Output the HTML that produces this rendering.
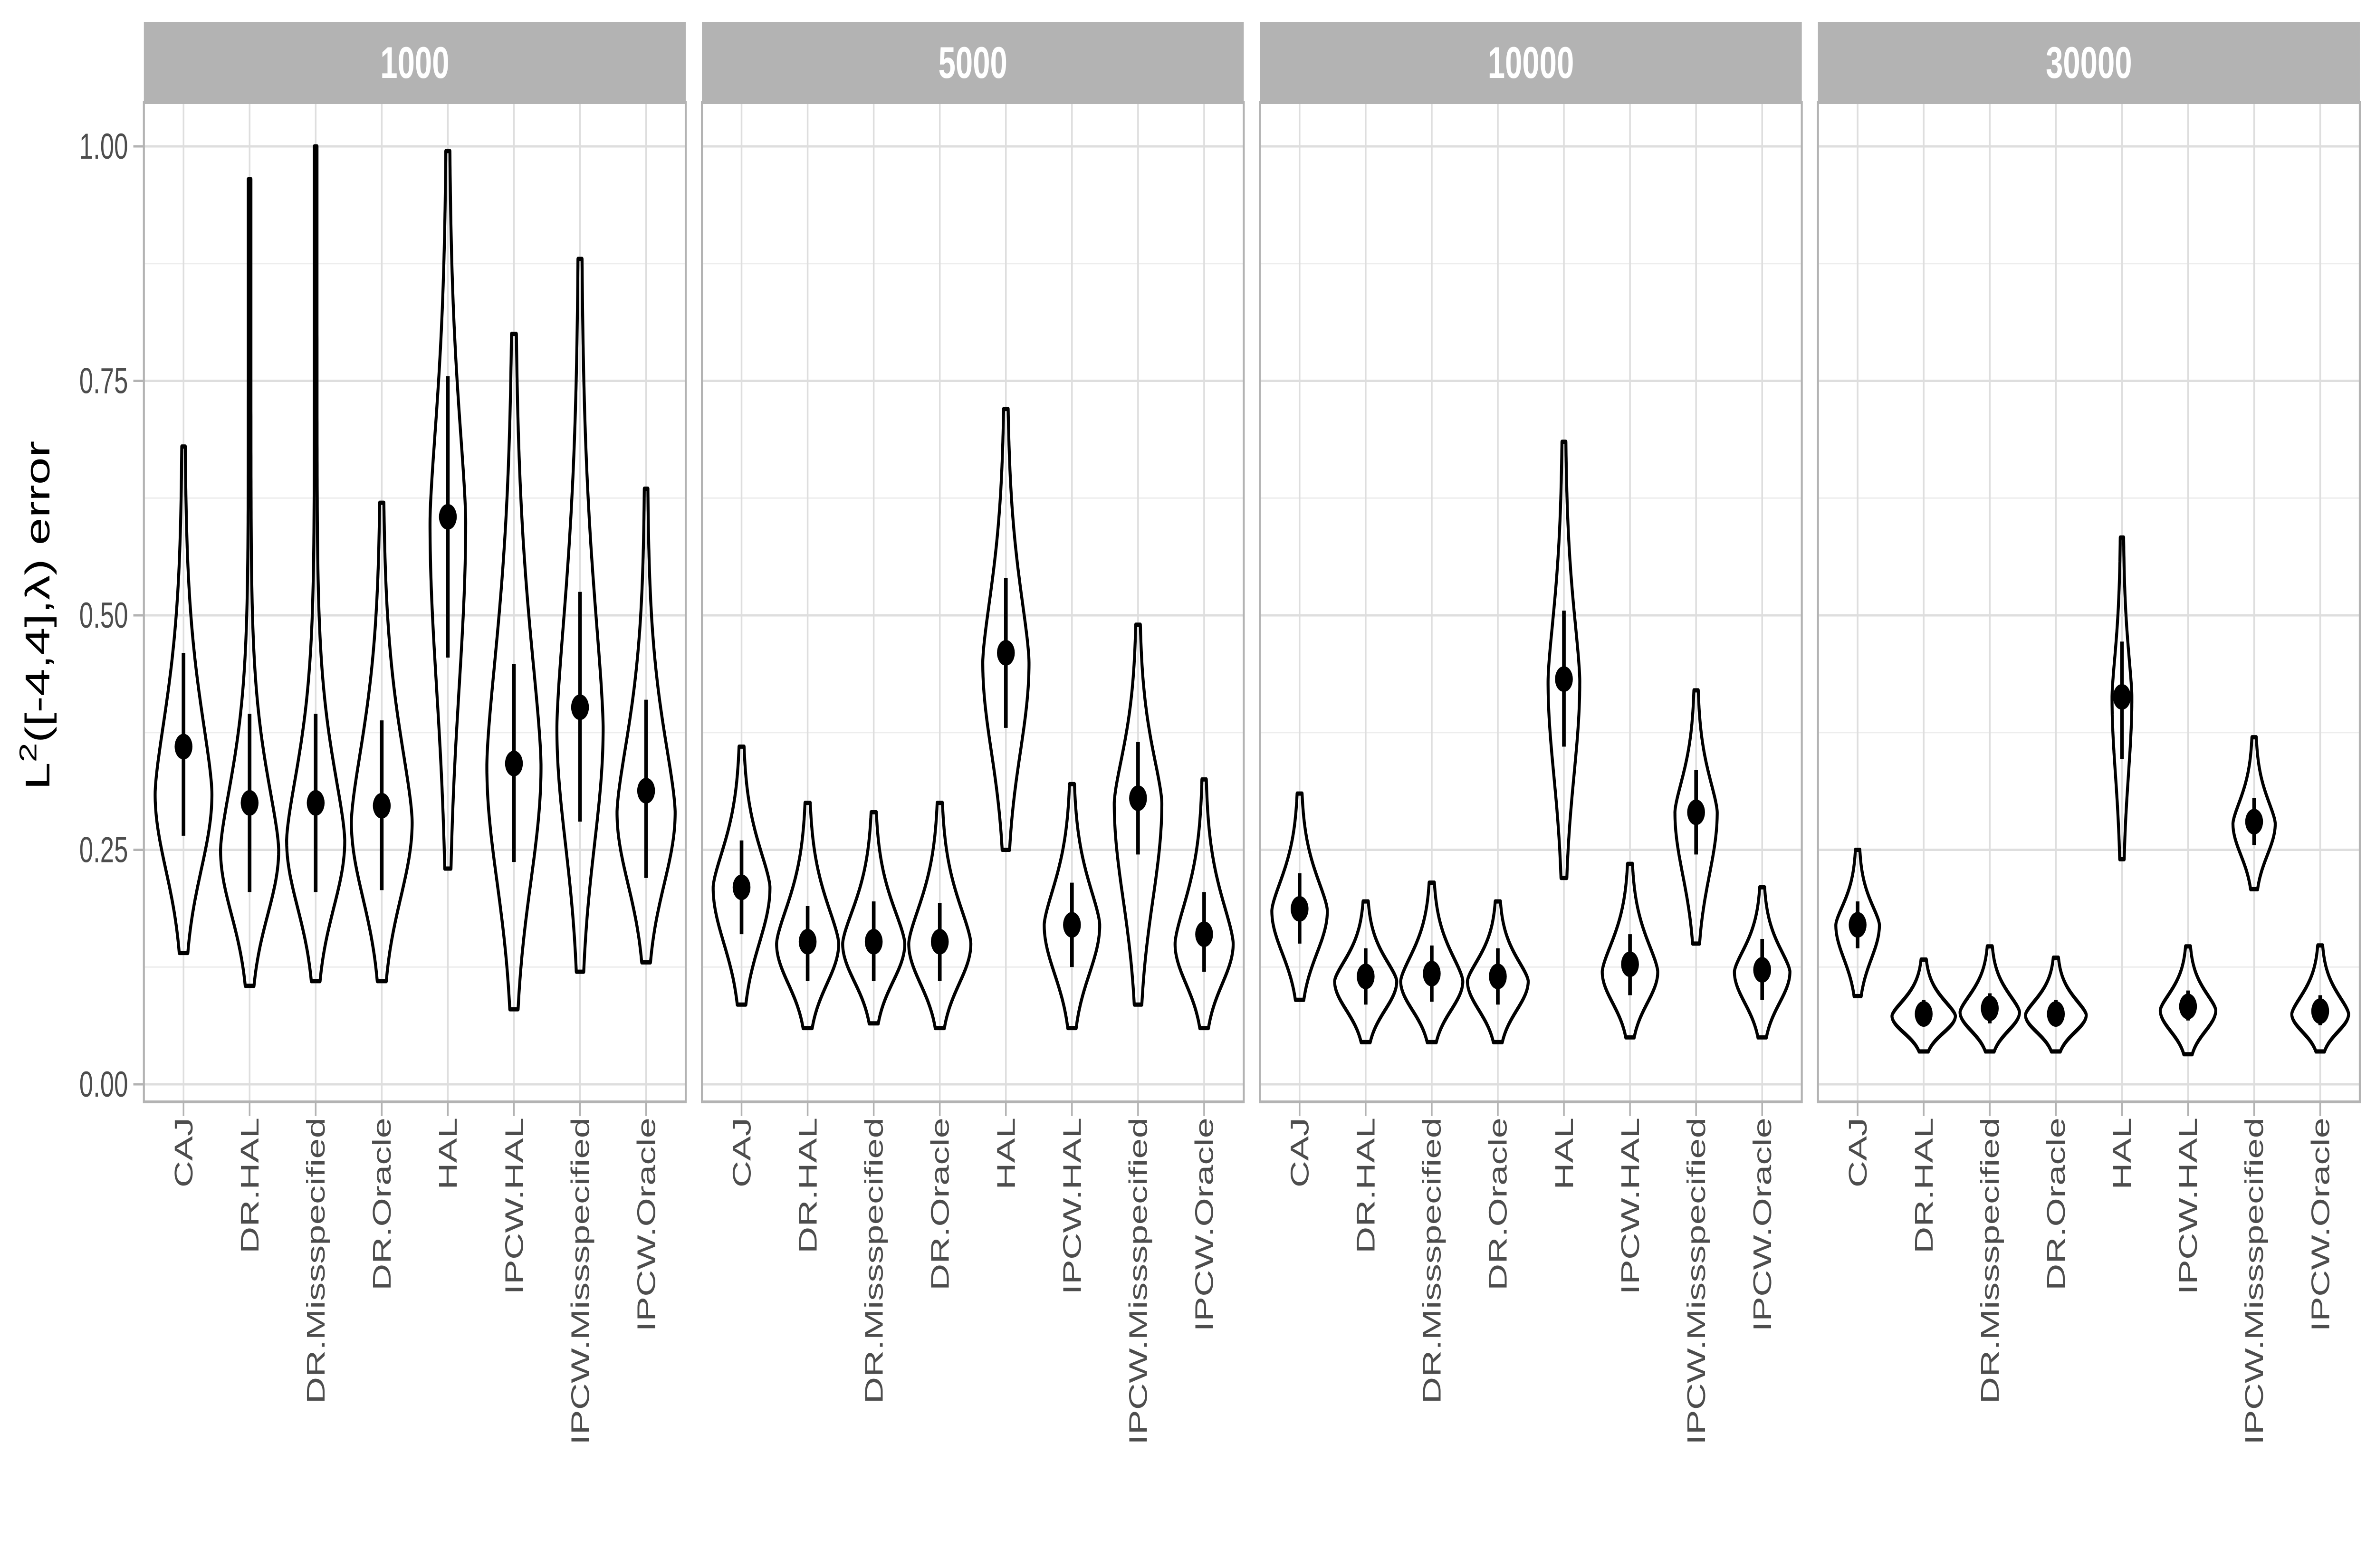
<!DOCTYPE html>
<html><head><meta charset="utf-8"><style>
html,body{margin:0;padding:0;background:#fff;width:100%;height:100%;overflow:hidden;}
svg{display:block;width:100vw;height:100vh;}
text{font-family:"Liberation Sans",sans-serif;}
</style></head><body>
<svg id="chart" viewBox="0 0 7200 3300" preserveAspectRatio="none" xmlns="http://www.w3.org/2000/svg">
<text transform="translate(150,1295) rotate(-90)" text-anchor="middle" font-size="104" fill="#000">L<tspan dy="-40" font-size="74">2</tspan><tspan dy="40">([-4,4],λ) error</tspan></text>
</svg>
<script>
const panels = ["1000","5000","10000","30000"];
const categories = ["CAJ","DR.HAL","DR.Missspecified","DR.Oracle","HAL","IPCW.HAL","IPCW.Missspecified","IPCW.Oracle"];
const yTicks = [0,0.25,0.5,0.75,1];
const yTickLabels = ["0.00","0.25","0.50","0.75","1.00"];
// per panel, per category
const vMin = [[0.14,0.105,0.11,0.11,0.23,0.08,0.12,0.13],[0.085,0.06,0.065,0.06,0.25,0.06,0.085,0.06],[0.09,0.045,0.045,0.045,0.22,0.05,0.15,0.05],[0.094,0.035,0.035,0.035,0.24,0.032,0.208,0.035]];
const vMax = [[0.68,0.965,1.0,0.62,0.995,0.80,0.88,0.635],[0.36,0.30,0.29,0.30,0.72,0.32,0.49,0.325],[0.31,0.195,0.215,0.195,0.685,0.235,0.42,0.21],[0.25,0.133,0.147,0.135,0.583,0.147,0.37,0.148]];
const vMode = [[0.31,0.25,0.26,0.28,0.60,0.34,0.38,0.29],[0.21,0.15,0.15,0.15,0.45,0.17,0.30,0.15],[0.185,0.11,0.11,0.11,0.43,0.12,0.29,0.12],[0.17,0.073,0.077,0.074,0.413,0.079,0.278,0.075]];
const vHalfWidth = [[0.41,0.42,0.42,0.44,0.25,0.39,0.33,0.42],[0.41,0.45,0.45,0.45,0.33,0.40,0.34,0.42],[0.40,0.45,0.45,0.44,0.22,0.40,0.30,0.40],[0.31,0.46,0.43,0.44,0.13,0.40,0.30,0.41]];
const pointVal = [[0.36,0.30,0.30,0.297,0.605,0.342,0.402,0.313],[0.21,0.152,0.152,0.152,0.46,0.17,0.305,0.16],[0.187,0.115,0.118,0.115,0.432,0.128,0.29,0.122],[0.17,0.075,0.081,0.075,0.413,0.083,0.28,0.078]];
const loVal = [[0.265,0.205,0.205,0.207,0.455,0.237,0.28,0.22],[0.16,0.11,0.11,0.11,0.38,0.125,0.245,0.12],[0.15,0.085,0.088,0.085,0.36,0.095,0.245,0.09],[0.145,0.062,0.065,0.062,0.347,0.068,0.255,0.063]];
const hiVal = [[0.46,0.395,0.395,0.388,0.755,0.448,0.525,0.41],[0.26,0.19,0.195,0.193,0.54,0.215,0.365,0.205],[0.225,0.145,0.148,0.145,0.505,0.16,0.335,0.155],[0.195,0.09,0.097,0.09,0.472,0.1,0.305,0.095]];

const NS="http://www.w3.org/2000/svg";
const svg=document.getElementById('chart');
const PX0=436, PSTEP=1691, PW=1642, PTOP=216, PBOT=2319, STRIPTOP=46;
const Y0=2282, Y1=308;
function yScale(v){return Y0+(Y1-Y0)*v;}
const unit=PW/8.2;
function xScale(p,i){return PX0+p*PSTEP+unit*(0.6+i);}
function mk(tag,attrs,parent){const e=document.createElementNS(NS,tag);for(const k in attrs)e.setAttribute(k,attrs[k]);(parent||svg).appendChild(e);return e;}

function violinPath(p,i){
  const mn=vMin[p][i],mx=vMax[p][i],md=vMode[p][i],hw=vHalfWidth[p][i]*unit;
  const sl=(md-mn)/2.1, sh=Math.min((mx-md)/2.8,(md-mn)*0.65);
  const cx=xScale(p,i);const N=160;const L=[],R=[];
  for(let k=0;k<=N;k++){
    const t=mn+(mx-mn)*k/N;let g;
    if(t<md){const d=(md-t)/sl;g=Math.exp(-d*d/2);}
    else{const d=(t-md)/sh;g=Math.exp(-Math.pow(d,1.5)/1.5);}
    const w=hw*g+4;
    const y=yScale(t);
    L.push([cx-w,y]);R.push([cx+w,y]);
  }
  let s="M"+L.map(q=>q[0].toFixed(1)+","+q[1].toFixed(1)).join("L");
  s+="L"+R.reverse().map(q=>q[0].toFixed(1)+","+q[1].toFixed(1)).join("L")+"Z";
  return s;
}

yTicks.forEach((v,k)=>{
  const t=mk('text',{x:388,y:yScale(v)+26,'text-anchor':'end','font-size':76,fill:'#4d4d4d'});
  
  
  t.textContent=yTickLabels[k];
  const tk=mk('line',{x1:404,x2:436,y1:yScale(v),y2:yScale(v),stroke:'#b3b3b3','stroke-width':5});
  
  
});

panels.forEach((name,p)=>{
  const px=PX0+p*PSTEP;
  const g=mk('g',{});
  
  
  const st=mk('rect',{x:px,y:STRIPTOP,width:PW,height:PTOP-STRIPTOP,fill:'#b3b3b3'},g);
  
  
  const stt=mk('text',{x:px+PW/2,y:(STRIPTOP+PTOP)/2+33,'text-anchor':'middle','font-size':94,'font-weight':'bold',fill:'#fff'},g);
  
  
  stt.textContent=name;
  for(let v=0.125;v<1.05;v+=0.25){
    const l=mk('line',{x1:px,x2:px+PW,y1:yScale(v),y2:yScale(v),stroke:'#ededed','stroke-width':3},g);
    
    
  }
  yTicks.forEach(v=>{
    const l=mk('line',{x1:px,x2:px+PW,y1:yScale(v),y2:yScale(v),stroke:'#dedede','stroke-width':5},g);
    
    
  });
  categories.forEach((c,i)=>{
    const x=xScale(p,i);
    const l=mk('line',{x1:x,x2:x,y1:PTOP,y2:PBOT,stroke:'#dedede','stroke-width':5},g);
    
    
  });
  const b=mk('rect',{x:px,y:PTOP,width:PW,height:PBOT-PTOP,fill:'none',stroke:'#b3b3b3','stroke-width':6},g);
  
  
  categories.forEach((c,i)=>{
    const x=xScale(p,i);
    const v=mk('path',{d:violinPath(p,i),fill:'none',stroke:'#000','stroke-width':9,'stroke-linejoin':'round'},g);
    
    
    const e=mk('line',{x1:x,x2:x,y1:yScale(loVal[p][i]),y2:yScale(hiVal[p][i]),stroke:'#000','stroke-width':11},g);
    
    
    const pt=mk('circle',{cx:x,cy:yScale(pointVal[p][i]),r:27,fill:'#000'},g);
    
    
    const tk=mk('line',{x1:x,x2:x,y1:PBOT,y2:PBOT+30,stroke:'#b3b3b3','stroke-width':5},g);
    
    
    const t=mk('text',{transform:`translate(${x+27},2352) rotate(-90)`,'text-anchor':'end','font-size':78,fill:'#4d4d4d'},g);
    
    
    t.textContent=c;
  });
});
</script>
</body></html>
